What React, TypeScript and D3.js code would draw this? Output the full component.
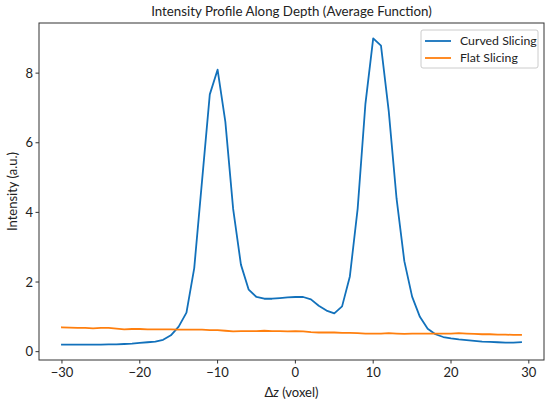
import React from "react";
import * as d3 from "d3";

const zValues: number[] = d3.range(-30, 30);
const curved: number[] = [
  0.2, 0.2, 0.2, 0.2, 0.2, 0.2, 0.21, 0.21, 0.22, 0.23,
  0.25, 0.27, 0.29, 0.34, 0.47, 0.72, 1.12, 2.4, 4.9, 7.39,
  8.1, 6.6, 4.1, 2.5, 1.78, 1.57, 1.52, 1.52, 1.54, 1.56,
  1.57, 1.57, 1.5, 1.32, 1.18, 1.1, 1.3, 2.16, 4.1, 7.12,
  9.0, 8.79, 6.9, 4.4, 2.6, 1.58, 1.0, 0.66, 0.5, 0.42,
  0.38, 0.35, 0.33, 0.31, 0.29, 0.28, 0.27, 0.26, 0.26, 0.27,
];
const flat: number[] = [
  0.7, 0.69, 0.68, 0.68, 0.67, 0.68, 0.68, 0.66, 0.64, 0.65,
  0.65, 0.64, 0.64, 0.64, 0.64, 0.63, 0.63, 0.63, 0.63, 0.62,
  0.62, 0.6, 0.58, 0.59, 0.59, 0.59, 0.6, 0.59, 0.59, 0.58,
  0.59, 0.58, 0.56, 0.55, 0.55, 0.55, 0.54, 0.54, 0.53, 0.52,
  0.52, 0.52, 0.53, 0.52, 0.51, 0.52, 0.52, 0.52, 0.52, 0.52,
  0.52, 0.53, 0.52, 0.51, 0.5, 0.5, 0.49, 0.49, 0.48, 0.48,
];
const xTicks: number[] = [-30, -20, -10, 0, 10, 20, 30];
const yTicks: number[] = [0, 2, 4, 6, 8];
const seriesNames: string[] = ["Curved Slicing", "Flat Slicing"];
const seriesColors: string[] = ["#1271bb", "#ff7f0e"];

const W = 550;
const H = 404;
const M = { left: 39, right: 544, top: 23, bottom: 360 };
const FONT = "Lato, 'Open Sans', sans-serif";

export default function App() {
  const xMin = d3.min(zValues)!;
  const xMax = d3.max(zValues)!;
  const xPad = (xMax - xMin) * 0.05;
  const all = curved.concat(flat);
  const yMin = d3.min(all)!;
  const yMax = d3.max(all)!;
  const yPad = (yMax - yMin) * 0.05;
  const x = d3.scaleLinear().domain([xMin - xPad, xMax + xPad]).range([M.left, M.right]);
  const y = d3.scaleLinear().domain([yMin - yPad, yMax + yPad]).range([M.bottom, M.top]);
  const line = d3
    .line<number>()
    .x((_, i) => x(zValues[i]))
    .y((d) => y(d));
  const series = [curved, flat];
  const textColor = "#222";
  return (
    <svg
      width={W}
      height={H}
      style={{ position: "absolute", left: 0, top: 0, background: "#fff" }}
      fontFamily={FONT}
    >
      <rect x={0} y={0} width={W} height={H} fill="#fff" />
      <text x={(M.left + M.right) / 2} y={16} textAnchor="middle" fontSize={13.3} fill={textColor}>
        Intensity Profile Along Depth (Average Function)
      </text>
      {series.map((s, i) => (
        <path
          key={i}
          d={line(s) || ""}
          fill="none"
          stroke={seriesColors[i]}
          strokeWidth={1.8}
          strokeLinejoin="round"
          strokeLinecap="square"
        />
      ))}
      <rect
        x={M.left}
        y={M.top}
        width={M.right - M.left}
        height={M.bottom - M.top}
        fill="none"
        stroke="#333"
        strokeWidth={1}
      />
      {xTicks.map((t) => (
        <g key={t}>
          <line x1={x(t)} x2={x(t)} y1={M.bottom} y2={M.bottom + 3.5} stroke="#333" />
          <text x={x(t)} y={M.bottom + 17} textAnchor="middle" fontSize={13} fill={textColor}>
            {t < 0 ? "\u2212" + Math.abs(t) : String(t)}
          </text>
        </g>
      ))}
      {yTicks.map((t) => (
        <g key={t}>
          <line x1={M.left - 3.5} x2={M.left} y1={y(t)} y2={y(t)} stroke="#333" />
          <text x={M.left - 6} y={y(t) + 4.5} textAnchor="end" fontSize={13} fill={textColor}>
            {t}
          </text>
        </g>
      ))}
      <text x={(M.left + M.right) / 2} y={397} textAnchor="middle" fontSize={13} fill={textColor}>
        {"\u0394"}
        <tspan fontStyle="italic">z</tspan> (voxel)
      </text>
      <text
        transform={`translate(17,${(M.top + M.bottom) / 2}) rotate(-90)`}
        textAnchor="middle"
        fontSize={13}
        fill={textColor}
      >
        Intensity (a.u.)
      </text>
      <g>
        <rect x={421} y={30} width={117} height={38} rx={2} fill="#fff" fillOpacity={0.8} stroke="#ccc" />
        {seriesNames.map((n, i) => (
          <g key={n}>
            <line
              x1={425}
              x2={451}
              y1={41 + i * 17}
              y2={41 + i * 17}
              stroke={seriesColors[i]}
              strokeWidth={1.8}
            />
            <text x={460} y={45 + i * 17} fontSize={12.3} fill={textColor}>
              {n}
            </text>
          </g>
        ))}
      </g>
    </svg>
  );
}
